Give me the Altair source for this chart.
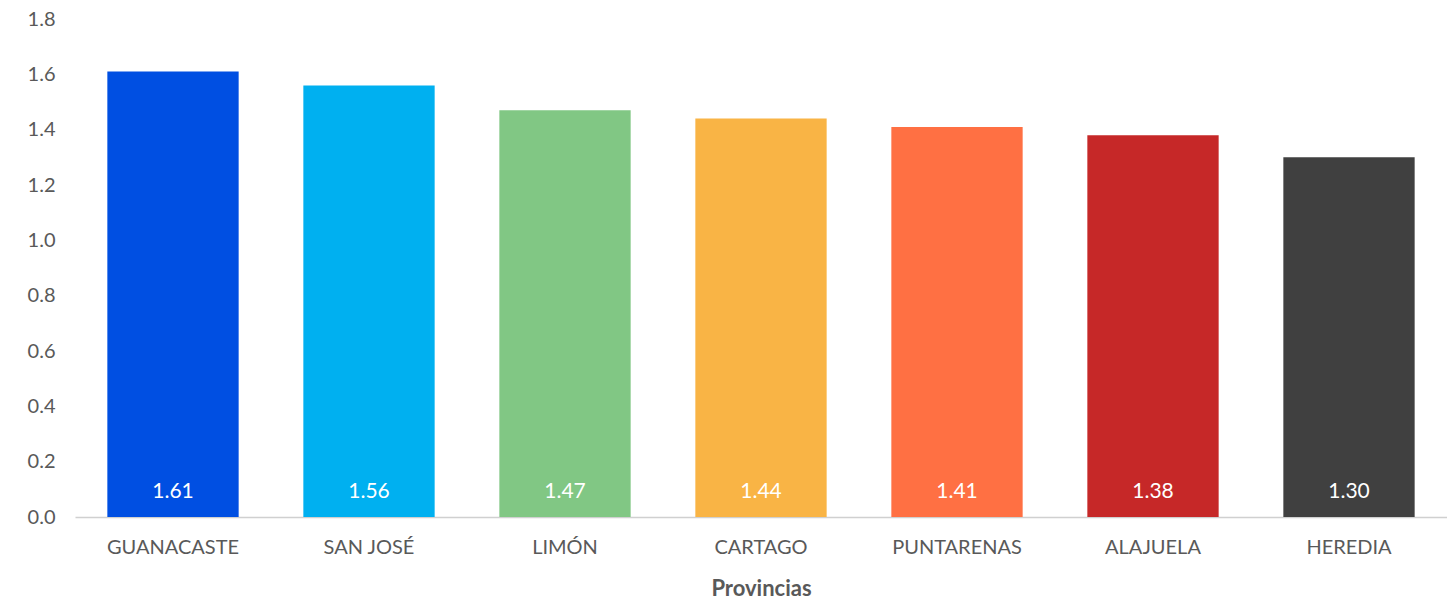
import altair as alt
import pandas as pd

provincias = ["GUANACASTE", "SAN JOSÉ", "LIMÓN", "CARTAGO", "PUNTARENAS", "ALAJUELA", "HEREDIA"]
valores = [1.61, 1.56, 1.47, 1.44, 1.41, 1.38, 1.30]
colores = ["#004FE2", "#00B0F0", "#81C784", "#F9B445", "#FF7043", "#C62828", "#404040"]

df = pd.DataFrame({"prov": provincias, "val": valores})

FONT = "Lato"

base = alt.Chart(df).encode(
    x=alt.X("prov:N", sort=provincias, title="Provincias",
            scale=alt.Scale(paddingInner=0.33, paddingOuter=0.165),
            axis=alt.Axis(labelAngle=0, labelFontSize=20, labelColor="#595959", labelFont=FONT,
                          labelPadding=20, ticks=False, domainColor="#d0d0d0", domainWidth=1.5,
                          titleFont=FONT, titleFontSize=22, titleFontWeight="bold",
                          titleColor="#595959", titlePadding=21, grid=False)),
)

bars = base.mark_bar().encode(
    y=alt.Y("val:Q", title=None,
            scale=alt.Scale(domain=[0, 1.8], nice=False),
            axis=alt.Axis(values=[0, 0.2, 0.4, 0.6, 0.8, 1.0, 1.2, 1.4, 1.6, 1.8], format=".1f",
                          labelFontSize=20, labelColor="#595959", labelFont=FONT, labelPadding=20,
                          ticks=False, domain=False, grid=False)),
    color=alt.Color("prov:N", scale=alt.Scale(domain=provincias, range=colores), legend=None),
)

labels = base.mark_text(color="white", fontSize=21, font=FONT, baseline="middle", dy=-25).encode(
    y=alt.datum(0),
    text=alt.Text("val:Q", format=".2f"),
)

chart = (bars + labels).properties(
    width=1372, height=498,
    autosize=alt.AutoSizeParams(type="none"),
    padding={"left": 67, "top": 11, "right": 0, "bottom": 82},
).configure_view(stroke=None)

chart.save("out.html", embed_options={"renderer": "svg", "actions": False})
